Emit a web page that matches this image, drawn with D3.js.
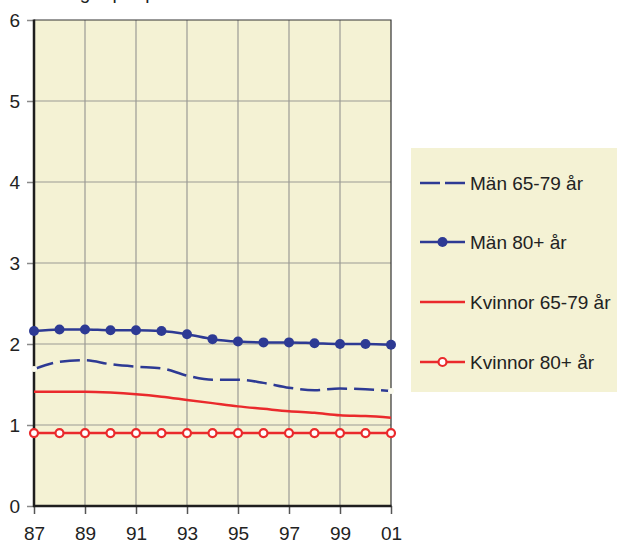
<!DOCTYPE html>
<html><head><meta charset="utf-8">
<script src="https://cdn.jsdelivr.net/npm/d3@7"></script>
<style>body{margin:0;background:#fff}svg{display:block;font-family:"Liberation Sans",Arial,Helvetica,sans-serif}</style>
</head><body>
<svg id="c" width="617" height="545"></svg>
<script>
const years = [1987,1988,1989,1990,1991,1992,1993,1994,1995,1996,1997,1998,1999,2000,2001];
const tickYears = [1987,1989,1991,1993,1995,1997,1999,2001];
const tickLabels = ["87","89","91","93","95","97","99","01"];
const yTicks = [0,1,2,3,4,5,6];
const man6579 = [1.69,1.78,1.80,1.75,1.72,1.70,1.61,1.56,1.56,1.52,1.46,1.43,1.45,1.44,1.42];
const man80 = [2.16,2.18,2.18,2.17,2.17,2.16,2.12,2.06,2.03,2.02,2.02,2.01,2.00,2.00,1.99];
const kvi6579 = [1.41,1.41,1.41,1.40,1.38,1.35,1.31,1.27,1.23,1.20,1.17,1.15,1.12,1.11,1.09];
const kvi80 = [0.90,0.90,0.90,0.90,0.90,0.90,0.90,0.90,0.90,0.90,0.90,0.90,0.90,0.90,0.90];
const names = ["Män 65-79 år","Män 80+ år","Kvinnor 65-79 år","Kvinnor 80+ år"];

const BG = "#f4f2d4", BLUE = "#2d3a94", RED = "#ea2a2c";
const svg = d3.select("#c");
const L = 34, R = 391, T = 20, B = 506;
const x = d3.scaleLinear().domain([1987,2001]).range([L,R]);
const y = d3.scaleLinear().domain([0,6]).range([B,T]);

// title (cut off at top, as in the reference)
svg.append("text").attr("x",10).attr("y",-1).attr("font-size",19).attr("fill","#222")
  .text("Antal dagar per person och år");

svg.append("rect").attr("x",L).attr("y",T).attr("width",R-L).attr("height",B-T).attr("fill",BG);

// grid
svg.append("g").selectAll("line").data(yTicks.filter(d=>d>0&&d<6)).join("line")
  .attr("x1",L).attr("x2",R).attr("y1",d=>y(d)).attr("y2",d=>y(d))
  .attr("stroke","#9a9a94").attr("stroke-width",1.2);
svg.append("g").selectAll("line").data(tickYears.slice(1,-1)).join("line")
  .attr("y1",T).attr("y2",B).attr("x1",d=>x(d)).attr("x2",d=>x(d))
  .attr("stroke","#9a9a94").attr("stroke-width",1.2);

// top/right border
svg.append("path").attr("d",`M${L},${T}H${R}V${B}`).attr("fill","none").attr("stroke","#333").attr("stroke-width",1.2);

// y axis
const ya = d3.axisLeft(y).tickValues(yTicks).tickSize(7).tickPadding(7).tickFormat(d3.format("d"));
const gy = svg.append("g").attr("transform",`translate(${L},0)`).call(ya);
gy.select(".domain").remove();
gy.selectAll(".tick line").attr("stroke","#8a8a8a").attr("stroke-width",1.5);
gy.selectAll(".tick text").attr("font-size",19).attr("fill","#222").attr("font-family","Liberation Sans, Arial, sans-serif");

// x axis
const xa = d3.axisBottom(x).tickValues(tickYears).tickSize(8).tickPadding(13).tickFormat((d,i)=>tickLabels[i]);
const gx = svg.append("g").attr("transform",`translate(0,${B})`).call(xa);
gx.select(".domain").remove();
gx.selectAll(".tick line").attr("stroke","#555").attr("stroke-width",1.5);
gx.selectAll(".tick text").attr("font-size",19).attr("fill","#222").attr("font-family","Liberation Sans, Arial, sans-serif");

// axis lines
svg.append("line").attr("x1",L).attr("x2",L).attr("y1",T-0.5).attr("y2",B+1).attr("stroke","#1e1e1e").attr("stroke-width",2.5);
svg.append("line").attr("x1",L-1).attr("x2",R+0.5).attr("y1",B).attr("y2",B).attr("stroke","#1e1e1e").attr("stroke-width",2.5);

const line = d3.line().x((d,i)=>x(years[i])).y(d=>y(d)).curve(d3.curveMonotoneX);

// Kvinnor 65-79
svg.append("path").attr("d",line(kvi6579)).attr("fill","none").attr("stroke",RED).attr("stroke-width",2.5);
// Män 65-79 dashed
svg.append("path").attr("d",line(man6579)).attr("fill","none").attr("stroke",BLUE).attr("stroke-width",2.5).attr("stroke-dasharray","20,7");
svg.append("g").selectAll("circle").data([0,man6579.length-1]).join("circle")
  .attr("cx",i=>x(years[i])).attr("cy",i=>y(man6579[i])).attr("r",3).attr("fill","#fbfbee");
// Män 80+
svg.append("path").attr("d",line(man80)).attr("fill","none").attr("stroke",BLUE).attr("stroke-width",2.5);
svg.append("g").selectAll("circle").data(man80).join("circle")
  .attr("cx",(d,i)=>x(years[i])).attr("cy",d=>y(d)).attr("r",5).attr("fill",BLUE);
// Kvinnor 80+
svg.append("path").attr("d",line(kvi80)).attr("fill","none").attr("stroke",RED).attr("stroke-width",2.5);
svg.append("g").selectAll("circle").data(kvi80).join("circle")
  .attr("cx",(d,i)=>x(years[i])).attr("cy",d=>y(d)).attr("r",4).attr("fill","#fff").attr("stroke",RED).attr("stroke-width",2.2);

// legend
const lg = svg.append("g");
lg.append("rect").attr("x",411).attr("y",148).attr("width",206).attr("height",244).attr("fill",BG);
const rows = [183,242,302,362];
const lx1 = 420, lx2 = 465;
names.forEach((n,i)=>{
  const yy = rows[i];
  const col = i<2?BLUE:RED;
  lg.append("line").attr("x1",lx1).attr("x2",lx2).attr("y1",yy).attr("y2",yy)
    .attr("stroke",col).attr("stroke-width",2.5).attr("stroke-dasharray",i===0?"20,5":null);
  if(i===1) lg.append("circle").attr("cx",(lx1+lx2)/2).attr("cy",yy).attr("r",5).attr("fill",BLUE);
  if(i===3) lg.append("circle").attr("cx",(lx1+lx2)/2).attr("cy",yy).attr("r",4).attr("fill","#fff").attr("stroke",RED).attr("stroke-width",2.2);
  lg.append("text").attr("x",470).attr("y",yy+7).attr("font-size",19).attr("fill","#222").text(n);
});
</script>
</body></html>
